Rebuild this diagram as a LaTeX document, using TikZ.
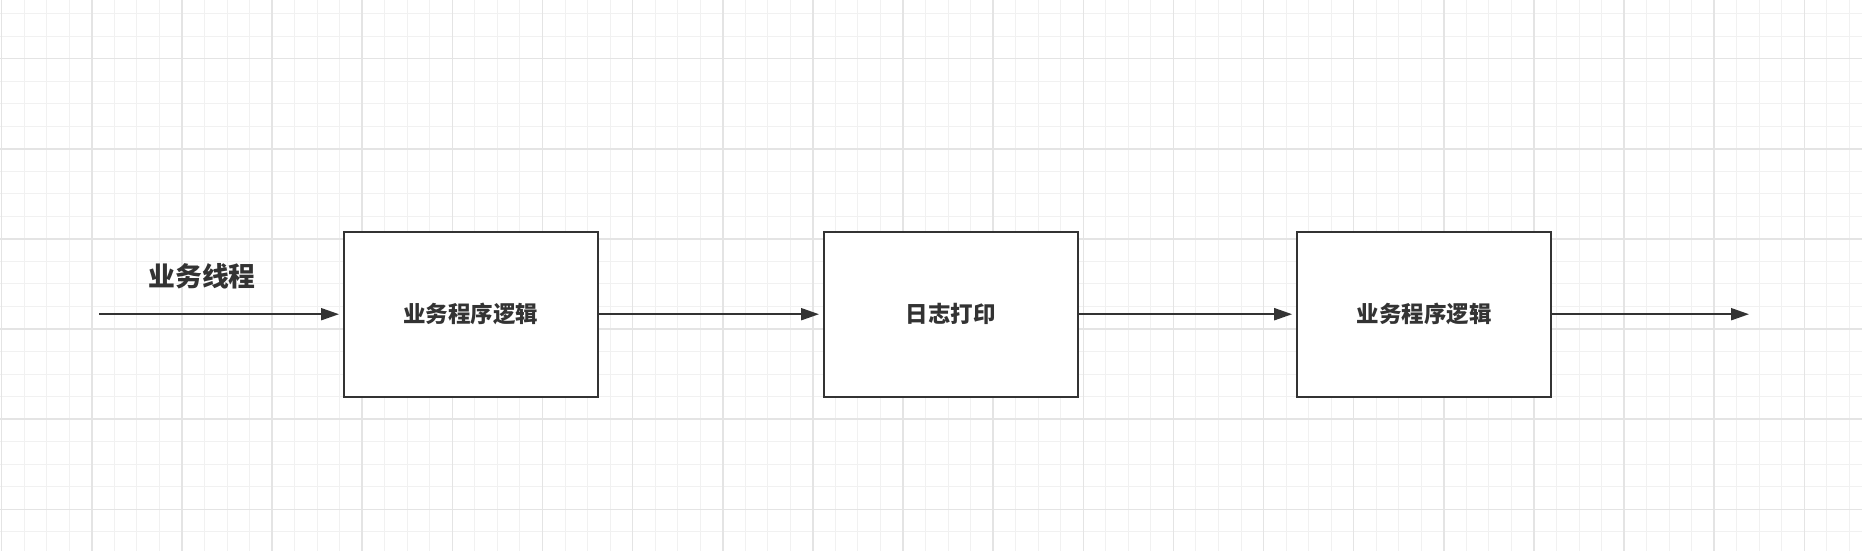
\documentclass[tikz,border=0pt]{standalone}
\usepackage{fontspec}
\newfontfamily\cjk{Noto Sans CJK SC}
\usetikzlibrary{arrows.meta}
\definecolor{ink}{HTML}{333333}
\definecolor{gridminor}{HTML}{F1F1F1}
\definecolor{gridmajor}{HTML}{E4E4E4}
\tikzset{
  procbox/.style={draw=ink, line width=2pt, fill=white, minimum width=253.7pt, minimum height=165pt, inner sep=0pt, outer sep=0pt, font=\cjk\bfseries\fontsize{22.5}{27}\selectfont, text=ink},
  flow/.style={draw=ink, line width=2pt, -{Triangle[length=18pt,width=12pt]}, shorten >=5pt},
  lbl/.style={font=\cjk\bfseries\fontsize{26.8}{32}\selectfont, text=ink, inner sep=0pt}
}
\begin{document}
\begin{tikzpicture}[x=1pt,y=-1pt]
\useasboundingbox (0,0) rectangle (1862,551);
\fill[white] (0,0) rectangle (1862,551);
% minor grid
\foreach \i in {0,...,82} {
  \draw[gridminor, line width=1pt] ({1.7+22.533*\i},0) -- ({1.7+22.533*\i},551);
}
\foreach \j in {0,...,23} {
  \draw[gridminor, line width=1pt] (0,{13.6+22.533*\j}) -- (1862,{13.6+22.533*\j});
}
% major grid
\foreach \i in {0,...,20} {
  \draw[gridmajor, line width=1.5pt] ({1.7+90.13*\i},0) -- ({1.7+90.13*\i},551);
}
\foreach \j in {0,...,5} {
  \draw[gridmajor, line width=1.5pt] (0,{58.7+90.13*\j}) -- (1862,{58.7+90.13*\j});
}
% nodes
\node[procbox] (b1) at (470.85,314.2) {业务程序逻辑};
\node[procbox] (b2) at (950.85,314.2) {日志打印};
\node[procbox] (b3) at (1424,314.2) {业务程序逻辑};
\node[lbl] (t) at (202,276) {业务线程};
\coordinate (s) at (99,314.2);
\coordinate (e) at (1754,314.2);
% connectors
\draw[flow] (s) -- (b1.west);
\draw[flow] (b1.east) -- (b2.west);
\draw[flow] (b2.east) -- (b3.west);
\draw[flow] (b3.east) -- (e);
\end{tikzpicture}
\end{document}
